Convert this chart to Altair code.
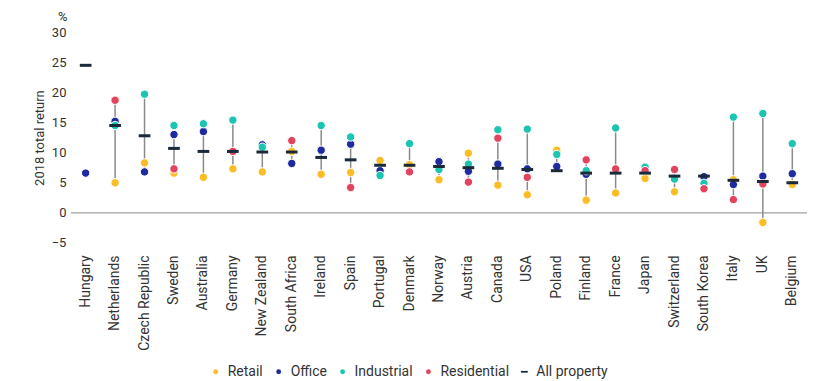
import altair as alt
import pandas as pd

countries = ["Hungary", "Netherlands", "Czech Republic", "Sweden", "Australia", "Germany",
             "New Zealand", "South Africa", "Ireland", "Spain", "Portugal", "Denmark", "Norway",
             "Austria", "Canada", "USA", "Poland", "Finland", "France", "Japan", "Switzerland",
             "South Korea", "Italy", "UK", "Belgium"]

retail = [None, 5.0, 8.3, 6.6, 5.9, 7.3, 6.8, 10.2, 6.4, 6.7, 8.7, 8.0, 5.5, 9.9, 4.6, 3.0,
          10.4, 2.1, 3.3, 5.7, 3.5, None, 5.5, -1.6, 4.7]
office = [6.6, 15.2, 6.8, 13.0, 13.5, None, 11.3, 8.2, 10.4, 11.4, 7.0, None, 8.5, 6.9, 8.1, 7.3,
          7.7, 6.4, None, None, None, 6.0, 4.7, 6.1, 6.5]
industrial = [None, 14.5, 19.7, 14.5, 14.8, 15.4, 10.9, None, 14.5, 12.6, 6.2, 11.5, 7.2, 8.1, 13.8, 13.9,
              9.7, 7.0, 14.1, 7.6, 5.6, 4.9, 15.9, 16.5, 11.5]
residential = [None, 18.7, None, 7.3, None, 10.2, None, 12.0, None, 4.2, None, 6.8, None, 5.1, 12.4, 5.9,
               None, 8.8, 7.3, 7.0, 7.2, 4.0, 2.2, 4.8, None]
all_property = [24.5, 14.5, 12.8, 10.7, 10.2, 10.2, 10.1, 10.1, 9.2, 8.8, 7.9, 7.9, 7.7, 7.5, 7.4, 7.2,
                7.0, 6.6, 6.6, 6.6, 6.1, 6.1, 5.4, 5.2, 5.0]

sectors = ["Retail", "Office", "Industrial", "Residential", "All property"]
series = [retail, office, industrial, residential, all_property]
colors = ["#FBBD26", "#1F2A9E", "#1DC5B0", "#E2445F", "#1B2A3A"]
dash = "M-1.4,-0.36H1.4V0.36H-1.4Z"
shapes = ["circle", "circle", "circle", "circle", dash]

rows = []
for s, vals in zip(sectors, series):
    for c, v in zip(countries, vals):
        if v is not None:
            rows.append({"country": c, "sector": s, "value": v})
df = pd.DataFrame(rows)

FONT = "Roboto"

x_enc = alt.X("country:N", sort=countries,
              axis=alt.Axis(title=None, labelAngle=-90, domain=False, ticks=False,
                            labelPadding=12, labelFontSize=14, labelColor="#333333",
                            labelFont=FONT))
y_scale = alt.Scale(domain=[-5, 30], nice=False, zero=False)
y_axis = alt.Axis(title="2018 total return", values=[-5, 0, 5, 10, 15, 20, 25, 30],
                  grid=False, domain=False, ticks=False, labelPadding=5,
                  labelFontSize=13, labelColor="#333333", labelFont=FONT,
                  titleFontSize=13, titleFontWeight="normal", titleColor="#333333",
                  titleFont=FONT, titlePadding=5)

zero = alt.Chart(pd.DataFrame({"v": [0]})).mark_rule(color="#A0A0A0", strokeWidth=1.2).encode(
    y=alt.Y("v:Q", scale=y_scale, axis=y_axis)
)

rng = alt.Chart(df).transform_filter(
    alt.datum.sector != "All property"
).transform_aggregate(
    lo="min(value)", hi="max(value)", groupby=["country"]
).mark_rule(color="#8A8A8A", strokeWidth=1.5).encode(
    x=x_enc,
    y=alt.Y("lo:Q", scale=y_scale, axis=y_axis),
    y2="hi:Q",
)

pts = alt.Chart(df).mark_point(filled=True, opacity=1, stroke="white", size=70).encode(
    x=x_enc,
    y=alt.Y("value:Q", scale=y_scale, axis=y_axis),
    color=alt.Color("sector:N", sort=sectors,
                    scale=alt.Scale(domain=sectors, range=colors),
                    legend=alt.Legend(title=None, orient="none", direction="horizontal",
                                      legendX=138, legendY=333, symbolSize=24,
                                      symbolStrokeWidth=0, labelFontSize=14,
                                      labelColor="#333333", labelFont=FONT,
                                      labelOffset=5, columnPadding=8)),
    shape=alt.Shape("sector:N", sort=sectors,
                    scale=alt.Scale(domain=sectors, range=shapes)),
    strokeWidth=alt.condition(alt.datum.sector == "All property", alt.value(0), alt.value(1)),
)

chart = alt.layer(zero, rng, pts).properties(
    width=737, height=211,
    autosize=alt.AutoSizeParams(type="none"),
    padding={"left": 63, "top": 24, "right": 10, "bottom": 138},
    title=alt.TitleParams("%", anchor="start", frame="group", dx=-13, fontSize=13,
                          fontWeight="normal", color="#333333", font=FONT, offset=2),
).configure_view(stroke=None)

chart.save("out.html", embed_options={"renderer": "svg", "actions": False})
